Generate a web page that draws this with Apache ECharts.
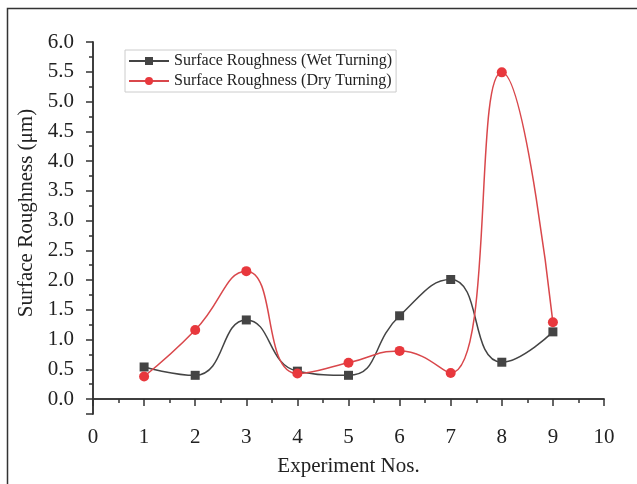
<!DOCTYPE html>
<html>
<head>
<meta charset="utf-8">
<script src="https://cdn.jsdelivr.net/npm/echarts@6/dist/echarts.min.js"></script>
<style>
  html, body { margin: 0; padding: 0; background: #fff; }
  #chart { width: 637px; height: 484px; }
</style>
</head>
<body>
<div id="chart"></div>
<script>
// 实验编号
var experimentNos = [1, 2, 3, 4, 5, 6, 7, 8, 9];
// 表面粗糙度 (μm)
var wetTurning = [0.54, 0.40, 1.33, 0.47, 0.40, 1.40, 2.01, 0.62, 1.13];
var dryTurning = [0.38, 1.16, 2.15, 0.43, 0.61, 0.81, 0.44, 5.49, 1.29];

var serif = '"Liberation Serif", "DejaVu Serif", serif';

function pairs(xs, ys) {
    return xs.map(function (x, i) { return [x, ys[i]]; });
}

var myChart = echarts.init(document.getElementById('chart'));

var axisLine = { show: true, lineStyle: { color: '#333', width: 1.5 } };

var option = {
    backgroundColor: '#fff',
    animation: false,
    graphic: [{
        type: 'rect',
        left: 5,
        top: 6,
        shape: { width: 700, height: 600 },
        style: { fill: 'none', stroke: '#333', lineWidth: 1.5 }
    }],
    grid: { left: 93, right: 33, top: 42, bottom: 70 },
    legend: {
        left: 125,
        top: 50,
        orient: 'vertical',
        itemGap: 4,
        itemWidth: 40,
        itemHeight: 10,
        padding: [3, 4, 3, 3],
        borderColor: '#ccc',
        borderWidth: 1,
        backgroundColor: '#fff',
        textStyle: { fontFamily: serif, fontSize: 16, color: '#222' },
        data: ['Surface Roughness (Wet Turning)', 'Surface Roughness (Dry Turning)']
    },
    xAxis: [{
        type: 'value',
        min: 0,
        max: 10,
        interval: 1,
        name: 'Experiment Nos.',
        nameLocation: 'middle',
        nameGap: 42,
        nameTextStyle: { fontFamily: serif, fontSize: 21, color: '#222' },
        axisLine: axisLine,
        axisTick: { show: true, length: 7, lineStyle: { color: '#333', width: 1.5 } },
        minorTick: { show: true, splitNumber: 2, length: 4, lineStyle: { color: '#333', width: 1.5 } },
        axisLabel: { margin: 13, fontFamily: serif, fontSize: 21, color: '#222' },
        splitLine: { show: false }
    }, {
        type: 'value',
        position: 'top',
        min: 0,
        max: 10,
        interval: 1,
        axisLine: axisLine,
        axisTick: { show: true, inside: true, length: 6, lineStyle: { color: '#333', width: 1.5 } },
        minorTick: { show: true, splitNumber: 2, length: 3, lineStyle: { color: '#333', width: 1.5 } },
        axisLabel: { show: false },
        splitLine: { show: false }
    }],
    yAxis: [{
        type: 'value',
        min: -0.25,
        max: 6,
        splitNumber: 12,
        name: 'Surface Roughness (μm)',
        nameLocation: 'middle',
        nameGap: 52,
        nameTextStyle: { fontFamily: serif, fontSize: 21, color: '#222', padding: [0, 0, 0, 30] },
        axisLine: axisLine,
        axisTick: { show: true, length: 7, lineStyle: { color: '#333', width: 1.5 } },
        minorTick: { show: true, splitNumber: 2, length: 4, lineStyle: { color: '#333', width: 1.5 } },
        axisLabel: {
            margin: 19,
            fontFamily: serif,
            fontSize: 21,
            color: '#222',
            formatter: function (v) { return v < 0 ? '' : v.toFixed(1); }
        },
        splitLine: { show: false }
    }, {
        type: 'value',
        position: 'right',
        min: -0.25,
        max: 6,
        splitNumber: 12,
        axisLine: axisLine,
        axisTick: { show: true, inside: true, length: 6, lineStyle: { color: '#333', width: 1.5 } },
        minorTick: { show: true, splitNumber: 2, length: 3, lineStyle: { color: '#333', width: 1.5 } },
        axisLabel: { show: false },
        splitLine: { show: false }
    }],
    series: [{
        name: 'Surface Roughness (Wet Turning)',
        type: 'line',
        smooth: 0.5,
        clip: false,
        symbol: 'rect',
        symbolSize: 9,
        itemStyle: { color: '#444' },
        lineStyle: { color: '#444', width: 1.5 },
        data: pairs(experimentNos, wetTurning)
    }, {
        name: 'Surface Roughness (Dry Turning)',
        type: 'line',
        smooth: 0.5,
        clip: false,
        symbol: 'circle',
        symbolSize: 10,
        itemStyle: { color: '#e8383d' },
        lineStyle: { color: '#d9474b', width: 1.5 },
        data: pairs(experimentNos, dryTurning)
    }]
};

myChart.setOption(option);
</script>
</body>
</html>
